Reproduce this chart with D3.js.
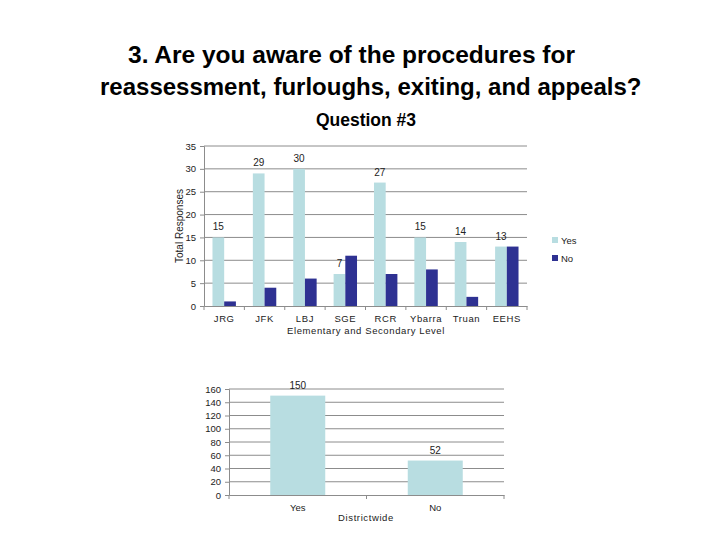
<!DOCTYPE html>
<meta charset="utf-8">
<script src="https://d3js.org/d3.v7.min.js"></script>
<style>
  body { margin: 0; background: #fff; }
  text { font-family: Arial, "Liberation Sans", sans-serif; }
</style>
<div id="chart"></div>
<script>
// data
var schools = ["JRG", "JFK", "LBJ", "SGE", "RCR", "Ybarra", "Truan", "EEHS"];
var yesCounts = [15, 29, 30, 7, 27, 15, 14, 13];
var noCounts = [1, 4, 6, 11, 7, 8, 2, 13];
var seriesNames = ["Yes", "No"];
var topTicks = [0, 5, 10, 15, 20, 25, 30, 35];

var districtCats = ["Yes", "No"];
var districtValues = [150, 52];
var bottomTicks = [0, 20, 40, 60, 80, 100, 120, 140, 160];

var lightBlue = "#b8dde1", darkBlue = "#2e3192", gridGray = "#8c8c8c";

var svg = d3.select("#chart").append("svg")
    .attr("width", 720)
    .attr("height", 540);

// titles
svg.append("text")
    .attr("x", 128).attr("y", 63)
    .attr("font-size", "24.5px").attr("font-weight", "bold")
    .text("3. Are you aware of the procedures for");
svg.append("text")
    .attr("x", 100).attr("y", 95)
    .attr("font-size", "24px").attr("font-weight", "bold")
    .text("reassessment, furloughs, exiting, and appeals?");
svg.append("text")
    .attr("x", 366).attr("y", 126)
    .attr("text-anchor", "middle")
    .attr("font-size", "17.5px").attr("font-weight", "bold")
    .text("Question #3");

// ---- top chart: by school ----
var x0 = d3.scaleBand()
    .domain(schools)
    .range([204, 527])
    .paddingInner(0.42)
    .paddingOuter(0.21);
var x1 = d3.scaleBand()
    .domain(seriesNames)
    .range([0, x0.bandwidth()]);
var y = d3.scaleLinear()
    .domain([0, 35])
    .range([306, 146]);

// gridlines
svg.append("g").selectAll("line")
  .data(topTicks.filter(function(d) { return d > 0; }))
  .enter().append("line")
    .attr("x1", 204).attr("x2", 527)
    .attr("y1", function(d) { return y(d); })
    .attr("y2", function(d) { return y(d); })
    .attr("stroke", gridGray).attr("stroke-width", 1);

var yAxis = svg.append("g")
    .attr("transform", "translate(204,0)")
    .call(d3.axisLeft(y).tickValues(topTicks).tickSize(4).tickPadding(4));
yAxis.selectAll("path, line").attr("stroke", gridGray);
yAxis.selectAll("text").attr("font-size", "9.5px").attr("fill", "#222");

var xAxis = svg.append("g")
    .attr("transform", "translate(0,306)")
    .call(d3.axisBottom(x0).tickSize(0).tickPadding(9));
xAxis.select("path").attr("stroke", gridGray);
xAxis.selectAll("text").attr("font-size", "9.5px").attr("fill", "#222")
    .attr("letter-spacing", "0.6px");
// category separators
svg.append("g").selectAll("line")
  .data(schools.concat(["end"]))
  .enter().append("line")
    .attr("x1", function(d, i) { return 204 + i * x0.step(); })
    .attr("x2", function(d, i) { return 204 + i * x0.step(); })
    .attr("y1", 306).attr("y2", 310)
    .attr("stroke", gridGray);

var groups = svg.append("g").selectAll("g")
  .data(schools)
  .enter().append("g")
    .attr("transform", function(d) { return "translate(" + x0(d) + ",0)"; });

groups.append("rect")
    .attr("x", x1("Yes"))
    .attr("y", function(d, i) { return y(yesCounts[i]); })
    .attr("width", x1.bandwidth())
    .attr("height", function(d, i) { return 306 - y(yesCounts[i]); })
    .attr("fill", lightBlue);
groups.append("rect")
    .attr("x", x1("No"))
    .attr("y", function(d, i) { return y(noCounts[i]); })
    .attr("width", x1.bandwidth())
    .attr("height", function(d, i) { return 306 - y(noCounts[i]); })
    .attr("fill", darkBlue);
groups.append("text")
    .attr("x", x1("Yes") + x1.bandwidth() / 2)
    .attr("y", function(d, i) { return y(yesCounts[i]) - 7; })
    .attr("text-anchor", "middle")
    .attr("font-size", "10px").attr("fill", "#222")
    .text(function(d, i) { return yesCounts[i]; });

svg.append("text")
    .attr("transform", "translate(183,226) rotate(-90)")
    .attr("text-anchor", "middle")
    .attr("font-size", "10px").attr("fill", "#222")
    .text("Total Responses");
svg.append("text")
    .attr("x", 366).attr("y", 334)
    .attr("text-anchor", "middle")
    .attr("font-size", "9.5px").attr("fill", "#222")
    .attr("letter-spacing", "0.6px")
    .text("Elementary and Secondary Level");

// legend
var legend = svg.append("g").selectAll("g")
  .data(seriesNames)
  .enter().append("g")
    .attr("transform", function(d, i) { return "translate(552," + (237 + i * 18) + ")"; });
legend.append("rect")
    .attr("width", 6).attr("height", 6)
    .attr("fill", function(d) { return d === "Yes" ? lightBlue : darkBlue; });
legend.append("text")
    .attr("x", 9).attr("y", 6.5)
    .attr("font-size", "9.5px").attr("fill", "#222")
    .text(function(d) { return d; });

// ---- bottom chart: districtwide ----
var bx = d3.scaleBand()
    .domain(districtCats)
    .range([229, 504])
    .paddingInner(0.6)
    .paddingOuter(0.3);
var by = d3.scaleLinear()
    .domain([0, 160])
    .range([495, 389]);

svg.append("g").selectAll("line")
  .data(bottomTicks.filter(function(d) { return d > 0; }))
  .enter().append("line")
    .attr("x1", 229).attr("x2", 504)
    .attr("y1", function(d) { return by(d); })
    .attr("y2", function(d) { return by(d); })
    .attr("stroke", gridGray);

var byAxis = svg.append("g")
    .attr("transform", "translate(229,0)")
    .call(d3.axisLeft(by).tickValues(bottomTicks).tickSize(4).tickPadding(4));
byAxis.selectAll("path, line").attr("stroke", gridGray);
byAxis.selectAll("text").attr("font-size", "9.5px").attr("fill", "#222");

var bxAxis = svg.append("g")
    .attr("transform", "translate(0,495)")
    .call(d3.axisBottom(bx).tickSize(0).tickPadding(9));
bxAxis.select("path").attr("stroke", gridGray);
bxAxis.selectAll("text").attr("font-size", "9.5px").attr("fill", "#222");
svg.append("g").selectAll("line")
  .data([0, 1, 2])
  .enter().append("line")
    .attr("x1", function(d) { return 229 + d * bx.step(); })
    .attr("x2", function(d) { return 229 + d * bx.step(); })
    .attr("y1", 495).attr("y2", 499)
    .attr("stroke", gridGray);

svg.append("g").selectAll("rect")
  .data(districtCats)
  .enter().append("rect")
    .attr("x", function(d) { return bx(d); })
    .attr("y", function(d, i) { return by(districtValues[i]); })
    .attr("width", bx.bandwidth())
    .attr("height", function(d, i) { return 495 - by(districtValues[i]); })
    .attr("fill", lightBlue);
svg.append("g").selectAll("text")
  .data(districtCats)
  .enter().append("text")
    .attr("x", function(d) { return bx(d) + bx.bandwidth() / 2; })
    .attr("y", function(d, i) { return by(districtValues[i]) - 7; })
    .attr("text-anchor", "middle")
    .attr("font-size", "10px").attr("fill", "#222")
    .text(function(d, i) { return districtValues[i]; });

svg.append("text")
    .attr("x", 366).attr("y", 521)
    .attr("text-anchor", "middle")
    .attr("font-size", "9.5px").attr("fill", "#222")
    .attr("letter-spacing", "0.6px")
    .text("Districtwide");
</script>
